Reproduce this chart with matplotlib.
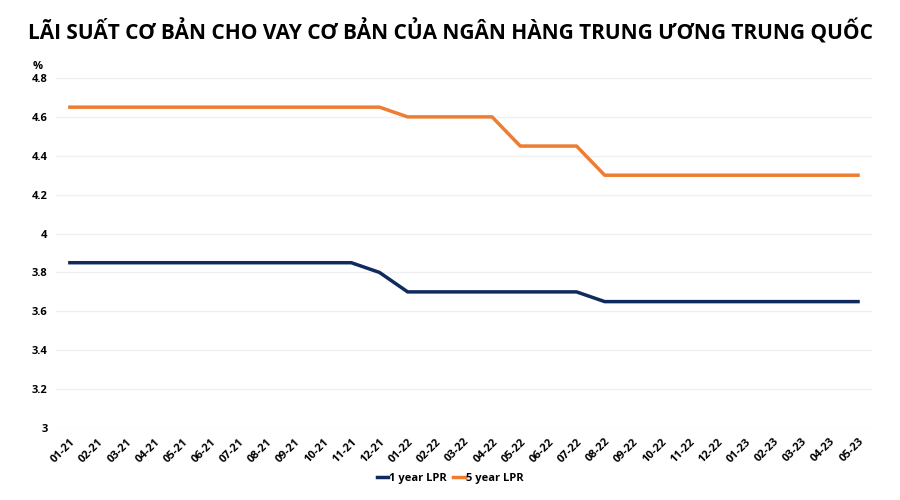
import matplotlib.pyplot as plt
import numpy as np

# dữ liệu LPR theo tháng
months = ['01-21', '02-21', '03-21', '04-21', '05-21', '06-21', '07-21', '08-21',
          '09-21', '10-21', '11-21', '12-21', '01-22', '02-22', '03-22', '04-22',
          '05-22', '06-22', '07-22', '08-22', '09-22', '10-22', '11-22', '12-22',
          '01-23', '02-23', '03-23', '04-23', '05-23']
lpr_1y = [3.85] * 11 + [3.80] + [3.70] * 7 + [3.65] * 10
lpr_5y = [4.65] * 12 + [4.60] * 4 + [4.45] * 3 + [4.30] * 10

TITLE = 'LÃI SUẤT CƠ BẢN CHO VAY CƠ BẢN CỦA NGÂN HÀNG TRUNG ƯƠNG TRUNG QUỐC'

plt.rcParams['font.family'] = ['Open Sans', 'DejaVu Sans']

fig = plt.figure(figsize=(9, 5), dpi=100)
ax = fig.add_axes([0.062, 0.144, 0.907, 0.70])

x = np.arange(len(months))
ax.plot(x, lpr_1y, color='#0f2a5c', lw=2.5, label='1 year LPR')
ax.plot(x, lpr_5y, color='#ed7d31', lw=2.5, label='5 year LPR')

ax.set_xlim(-0.5, len(months) - 0.5)
ax.set_ylim(3, 4.8)
yt = np.arange(3, 4.81, 0.2)
ax.set_yticks(yt)
ax.set_yticklabels([f'{v:g}' for v in yt], fontsize=8, fontweight='bold')
ax.set_xticks(x)
ax.set_xticklabels(months, rotation=45, ha='right', rotation_mode='anchor',
                   fontsize=8, fontweight='bold')
ax.tick_params(length=0, pad=6)
ax.grid(axis='y', color='#efefef', lw=0.9)
ax.set_axisbelow(True)
for s in ax.spines.values():
    s.set_visible(False)

fig.text(0.042, 0.862, '%', fontsize=8, fontweight='bold', ha='center')
fig.text(0.5, 0.937, TITLE, fontsize=15.0, fontweight='bold', ha='center', va='center')

fig.legend(loc='center', bbox_to_anchor=(0.5, 0.043), ncol=2, frameon=False,
           prop={'size': 8, 'weight': 'bold'}, handlelength=1.0, handletextpad=0.1,
           columnspacing=0.6)

fig.savefig('out.png', dpi=100)
